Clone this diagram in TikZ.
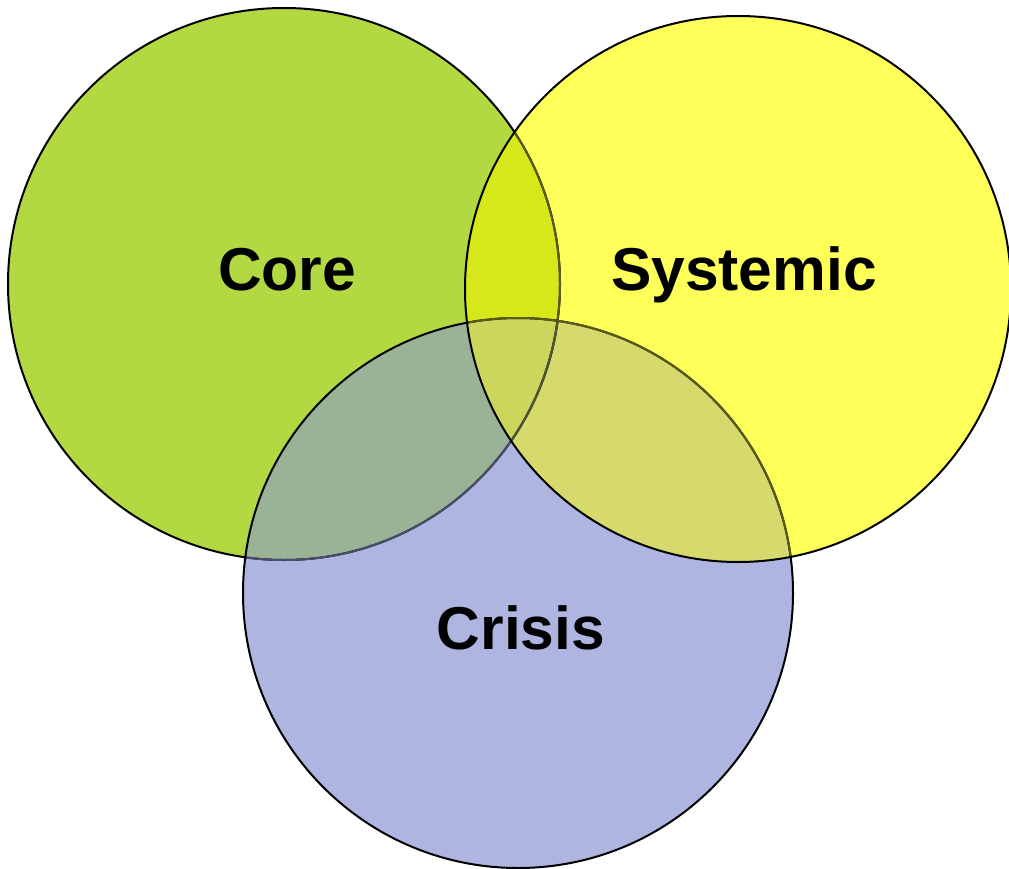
\documentclass[tikz,border=0pt]{standalone}
\usepackage{fontspec}
\setmainfont{Liberation Sans}
\definecolor{corefill}{RGB}{178,217,66}
\definecolor{sysfill}{RGB}{255,255,90}
\definecolor{crifill}{RGB}{173,181,224}
\definecolor{coresys}{RGB}{214,232,26}
\definecolor{corecri}{RGB}{154,178,150}
\definecolor{syscri}{RGB}{214,218,108}
\definecolor{allthree}{RGB}{204,214,92}
\definecolor{edgeinsys}{RGB}{88,90,24}
\definecolor{edgeincri}{RGB}{72,78,108}
\definecolor{edgeinboth}{RGB}{80,84,50}
\tikzset{
  edge/.style={line width=2pt},
  setlabel/.style={anchor=base, font=\bfseries\fontsize{60.5}{72}\selectfont, text=black, inner sep=0pt},
  rcore/.style={radius=276pt},
  rsys/.style={radius=273pt},
  rcri/.style={radius=275pt}
}
\begin{document}
\begin{tikzpicture}[x=1pt,y=-1pt]
  \useasboundingbox (0,0) rectangle (1009,869);
  \coordinate (core) at (284,284);
  \coordinate (sys)  at (738,289);
  \coordinate (cri)  at (518,593);

  % plain set fills
  \fill[corefill] (core) circle[rcore];
  \fill[crifill]  (cri)  circle[rcri];
  \fill[sysfill]  (sys)  circle[rsys];

  % overlap regions
  \begin{scope}
    \clip (core) circle[rcore];
    \fill[coresys] (sys) circle[rsys];
    \fill[corecri] (cri) circle[rcri];
  \end{scope}
  \begin{scope}
    \clip (sys) circle[rsys];
    \fill[syscri] (cri) circle[rcri];
    \clip (core) circle[rcore];
    \fill[allthree] (cri) circle[rcri];
  \end{scope}

  % outline of Core, dimmed where the other sets lie over it
  \draw[edge] (core) circle[rcore];
  \begin{scope}
    \clip (cri) circle[rcri];
    \draw[edge, edgeincri] (core) circle[rcore];
  \end{scope}
  \begin{scope}
    \clip (sys) circle[rsys];
    \draw[edge, edgeinsys] (core) circle[rcore];
    \clip (cri) circle[rcri];
    \draw[edge, edgeinboth] (core) circle[rcore];
  \end{scope}

  % outline of Crisis, dimmed under Systemic
  \draw[edge] (cri) circle[rcri];
  \begin{scope}
    \clip (sys) circle[rsys];
    \draw[edge, edgeinsys] (cri) circle[rcri];
  \end{scope}

  % outline of Systemic on top
  \draw[edge] (sys) circle[rsys];

  % labels
  \node[setlabel] (corelabel) at (287,290) {Core};
  \node[setlabel] (syslabel)  at (744,290) {Systemic};
  \node[setlabel] (crilabel)  at (521,649) {Crisis};
\end{tikzpicture}
\end{document}
